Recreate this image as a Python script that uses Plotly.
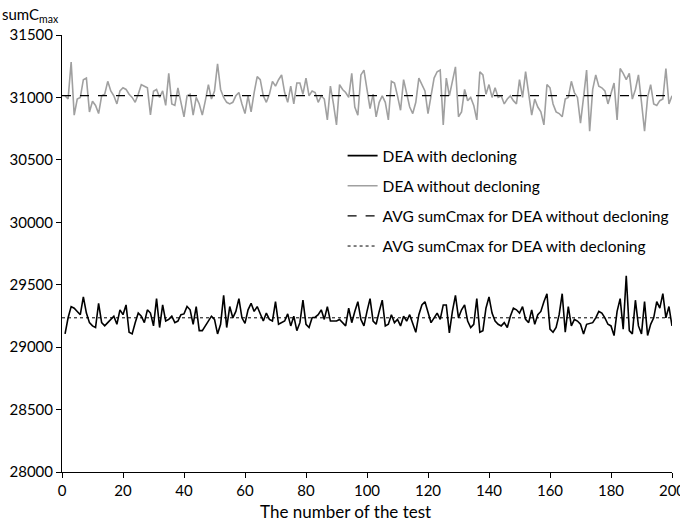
import plotly.graph_objects as go

tests = list(range(1, 201))

dea_without = [
    31013, 30987, 31283, 30858, 30987, 31000, 31142, 31155, 30884, 30970,
    30936, 30871, 31013, 31026, 31129, 31052, 31013, 30948, 31052, 31077,
    31064, 31026, 31000, 30961, 31026, 31103, 31090, 31077, 30860, 31050,
    31064, 31000, 31052, 30936, 31193, 30948, 30936, 31077, 30961, 30845,
    31013, 31026, 30858, 31000, 30948, 30858, 30974, 31103, 30987, 31052,
    31270, 31064, 31000, 30961, 30948, 30961, 31013, 31039, 30948, 30871,
    31013, 30884, 31039, 31167, 31142, 31013, 30961, 31026, 31129, 31090,
    31142, 31180, 31039, 30961, 31090, 30948, 31116, 31116, 31026, 31155,
    31013, 31052, 31039, 30961, 31013, 30987, 30820, 31090, 30948, 30780,
    31103, 31064, 31039, 31000, 31193, 30923, 30858, 31180, 31219, 31077,
    30910, 31026, 30845, 30961, 31013, 30961, 30820, 31129, 31116, 31013,
    30897, 31142, 31026, 30923, 30871, 30961, 31155, 31103, 31052, 30871,
    31026, 31155, 31206, 31219, 30780, 31155, 31013, 31116, 31245, 30845,
    30884, 31064, 30974, 31000, 30936, 30820, 31206, 31180, 31026, 31103,
    31000, 31077, 31000, 31013, 30948, 30987, 31013, 30974, 30948, 31142,
    31000, 31206, 31026, 30858, 30987, 30923, 30884, 30780, 31103, 31077,
    30948, 30884, 30871, 30845, 30987, 31000, 31129, 31039, 31000, 30794,
    31000, 31219, 30729, 31064, 31180, 31090, 31077, 31052, 30948, 31026,
    31116, 30820, 31232, 31193, 31142, 31193, 30987, 31064, 31180, 30961,
    30729, 31000, 31103, 30948, 30936, 30974, 30987, 31232, 30948, 31013,
]

dea_with = [
    29106, 29235, 29325, 29312, 29286, 29260, 29402, 29273, 29196, 29170,
    29157, 29351, 29196, 29170, 29196, 29222, 29248, 29183, 29299, 29260,
    29338, 29119, 29106, 29196, 29273, 29248, 29196, 29299, 29273, 29170,
    29389, 29157, 29338, 29209, 29222, 29248, 29196, 29209, 29260, 29266,
    29325, 29299, 29183, 29325, 29132, 29132, 29170, 29209, 29248, 29222,
    29106, 29183, 29415, 29157, 29325, 29235, 29286, 29389, 29235, 29190,
    29299, 29351, 29286, 29325, 29273, 29209, 29273, 29222, 29209, 29364,
    29183, 29196, 29209, 29266, 29170, 29248, 29132, 29196, 29376, 29183,
    29157, 29235, 29240, 29260, 29299, 29222, 29325, 29209, 29209, 29209,
    29222, 29196, 29170, 29312, 29196, 29286, 29364, 29222, 29170, 29286,
    29389, 29209, 29183, 29286, 29376, 29170, 29183, 29260, 29196, 29222,
    29170, 29248, 29209, 29260, 29183, 29119, 29260, 29338, 29364, 29286,
    29196, 29235, 29273, 29222, 29338, 29338, 29114, 29286, 29415, 29235,
    29299, 29338, 29209, 29157, 29183, 29389, 29119, 29132, 29312, 29402,
    29273, 29209, 29183, 29170, 29196, 29157, 29248, 29312, 29299, 29273,
    29325, 29222, 29196, 29299, 29183, 29260, 29286, 29364, 29428, 29144,
    29119, 29157, 29260, 29428, 29119, 29325, 29170, 29222, 29209, 29183,
    29106, 29183, 29190, 29196, 29235, 29286, 29273, 29235, 29183, 29170,
    29093, 29286, 29389, 29144, 29572, 29132, 29106, 29376, 29170, 29106,
    29364, 29093, 29183, 29235, 29364, 29312, 29428, 29235, 29325, 29170,
]

avg_without = 31015
avg_with = 29235

x_ticks = [0, 20, 40, 60, 80, 100, 120, 140, 160, 180, 200]
y_ticks = [28000, 28500, 29000, 29500, 30000, 30500, 31000, 31500]

names = [
    "DEA with decloning",
    "DEA without decloning",
    "AVG sumCmax for DEA without decloning",
    "AVG sumCmax for DEA with decloning",
]

FONT = "Lato, Open Sans, sans-serif"

fig = go.Figure()
fig.add_trace(go.Scatter(
    x=tests, y=dea_with, mode="lines", name=names[0],
    line=dict(color="#000000", width=1.6), legendgroup="a", legendrank=1,
))
fig.add_trace(go.Scatter(
    x=tests, y=dea_without, mode="lines", name=names[1],
    line=dict(color="#a0a0a0", width=1.6), legendgroup="b", legendrank=2,
))
fig.add_trace(go.Scatter(
    x=[0, 200], y=[avg_without, avg_without], mode="lines", name=names[2],
    line=dict(color="#000000", width=1.3, dash="dash"), legendgroup="c", legendrank=3,
))
fig.add_trace(go.Scatter(
    x=[0, 200], y=[avg_with, avg_with], mode="lines", name=names[3],
    line=dict(color="#000000", width=1, dash="dot"), legendgroup="d", legendrank=4,
))

fig.update_layout(
    width=680, height=523,
    margin=dict(l=62, r=8, t=35, b=51, autoexpand=False),
    paper_bgcolor="white", plot_bgcolor="white",
    font=dict(family=FONT, size=15, color="#000000"),
    showlegend=True,
    legend=dict(
        x=0.46, y=0.762, xanchor="left", yanchor="top",
        bgcolor="rgba(0,0,0,0)", tracegroupgap=7,
        font=dict(family=FONT, size=15.5),
    ),
    xaxis=dict(
        range=[0, 200], tickmode="array", tickvals=x_ticks,
        ticktext=[str(v) for v in x_ticks], ticklabeloverflow="allow",
        automargin=False,
        ticks="outside", ticklen=5, tickcolor="#000", showline=True,
        linecolor="#000", linewidth=1, showgrid=False, zeroline=False,
        tickfont=dict(family=FONT, size=15),
    ),
    yaxis=dict(
        range=[28000, 31500], tickmode="array", tickvals=y_ticks,
        ticktext=[str(v) for v in y_ticks], automargin=False,
        ticks="outside", ticklen=5, tickcolor="#000", showline=True,
        linecolor="#000", linewidth=1, showgrid=False, zeroline=False,
        tickfont=dict(family=FONT, size=15),
    ),
    annotations=[
        dict(
            text="sumC<sub>max</sub>", xref="paper", yref="paper",
            x=-0.102, y=1.0, xanchor="left", yanchor="bottom", yshift=8,
            showarrow=False, font=dict(family=FONT, size=15),
        ),
        dict(
            text="The number of the test", xref="paper", yref="paper",
            x=0.464, y=0, xanchor="center", yanchor="top", yshift=-27,
            showarrow=False, font=dict(family=FONT, size=17),
        ),
    ],
)

fig.write_html("out.html")
